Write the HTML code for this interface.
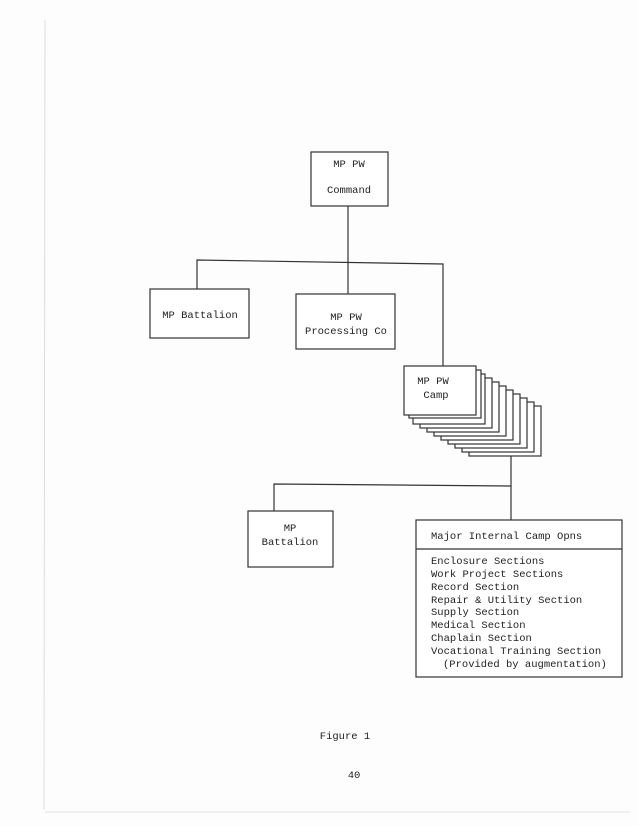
<!DOCTYPE html>
<html><head><meta charset="utf-8"><style>
html,body{margin:0;padding:0;background:#fff;}
svg{display:block;}
text{font-family:"Liberation Mono",monospace;font-size:10.5px;fill:#222;}
</style></head><body>
<svg width="638" height="826" viewBox="0 0 638 826" xmlns="http://www.w3.org/2000/svg">
<rect width="638" height="826" fill="#fdfdfd"/>
<line x1="45" y1="20" x2="44" y2="810" stroke="#ddd" stroke-width="1"/>
<line x1="45" y1="812" x2="630" y2="812" stroke="#e4e4e4" stroke-width="1"/>
<g stroke="#333" stroke-width="1.2" fill="#fff">
<rect x="311" y="152" width="77" height="54"/>
<line x1="348" y1="206" x2="348" y2="294" fill="none"/>
<polyline points="197,289 197,260 443,264 443,366" fill="none"/>
<rect x="150" y="289" width="99" height="49"/>
<rect x="296" y="294" width="99" height="55"/>
<rect x="469" y="406" width="72" height="50"/>
<rect x="462" y="402" width="72" height="50"/>
<rect x="455" y="398" width="72" height="50"/>
<rect x="448" y="394" width="72" height="50"/>
<rect x="441" y="390" width="72" height="50"/>
<rect x="434" y="386" width="72" height="50"/>
<rect x="427" y="382" width="72" height="50"/>
<rect x="420" y="378" width="72" height="50"/>
<rect x="413" y="374" width="72" height="50"/>
<rect x="409" y="370" width="72" height="48"/>
<rect x="404" y="366" width="72" height="49"/>
<polyline points="511,456 511,520" fill="none"/>
<polyline points="274,511 274,484 511,486" fill="none"/>
<rect x="248" y="511" width="85" height="56"/>
<rect x="416" y="520" width="206" height="157"/>
<line x1="416" y1="549" x2="622" y2="549"/>
</g>
<text x="349" y="167" text-anchor="middle">MP PW</text>
<text x="349" y="193" text-anchor="middle">Command</text>
<text x="200" y="318" text-anchor="middle">MP Battalion</text>
<text x="346" y="320" text-anchor="middle">MP PW</text>
<text x="346" y="334" text-anchor="middle">Processing Co</text>
<text x="433" y="384" text-anchor="middle">MP PW</text>
<text x="436" y="398" text-anchor="middle">Camp</text>
<text x="290" y="531" text-anchor="middle">MP</text>
<text x="290" y="545" text-anchor="middle">Battalion</text>
<text x="431" y="539">Major Internal Camp Opns</text>
<text x="431" y="564">Enclosure Sections</text>
<text x="431" y="577">Work Project Sections</text>
<text x="431" y="590">Record Section</text>
<text x="431" y="603">Repair &amp; Utility Section</text>
<text x="431" y="615">Supply Section</text>
<text x="431" y="628">Medical Section</text>
<text x="431" y="641">Chaplain Section</text>
<text x="431" y="654">Vocational Training Section</text>
<text x="443" y="667">(Provided by augmentation)</text>
<text x="345" y="739" text-anchor="middle">Figure 1</text>
<text x="354" y="778" text-anchor="middle">40</text>
</svg>
</body></html>
